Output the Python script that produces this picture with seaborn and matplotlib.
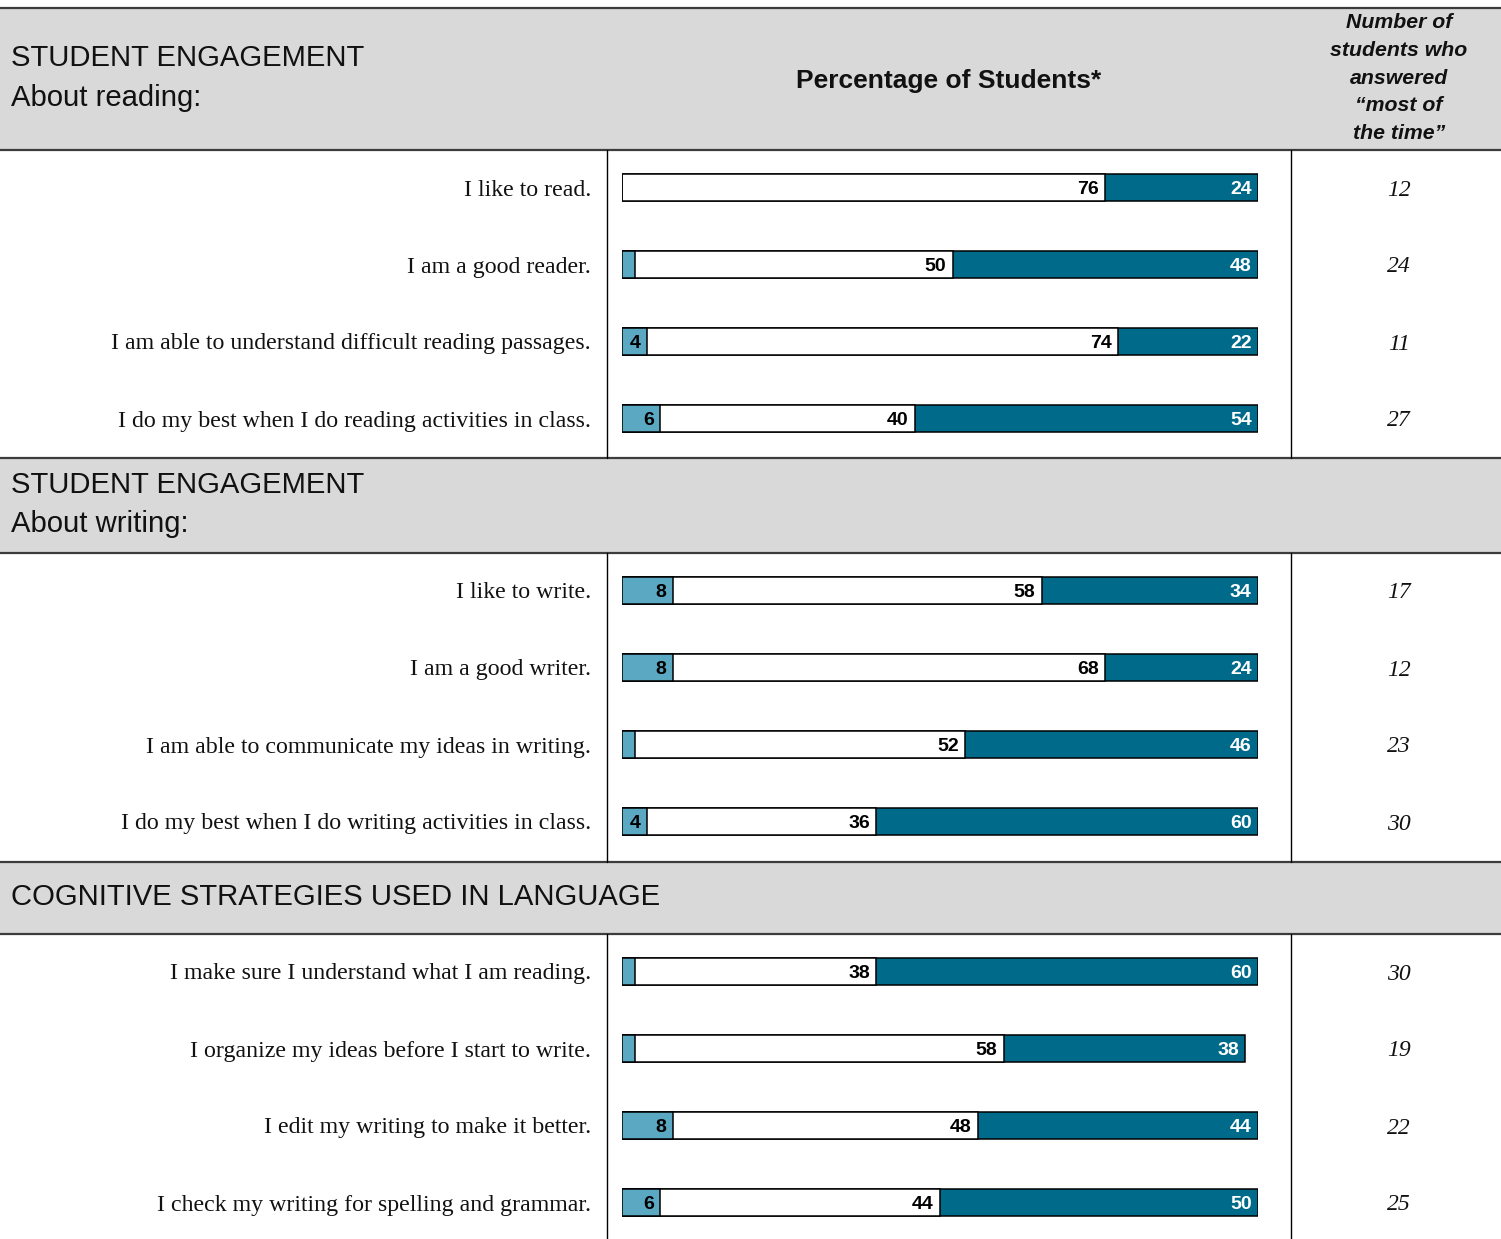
import numpy as np
import pandas as pd
import matplotlib
matplotlib.use("Agg")
import matplotlib.pyplot as plt
import seaborn as sns

# ---- data -------------------------------------------------------------
section_titles = [
    "STUDENT ENGAGEMENT\nAbout reading:",
    "STUDENT ENGAGEMENT\nAbout writing:",
    "COGNITIVE STRATEGIES USED IN LANGUAGE",
]
statements = [
    "I like to read.",
    "I am a good reader.",
    "I am able to understand difficult reading passages.",
    "I do my best when I do reading activities in class.",
    "I like to write.",
    "I am a good writer.",
    "I am able to communicate my ideas in writing.",
    "I do my best when I do writing activities in class.",
    "I make sure I understand what I am reading.",
    "I organize my ideas before I start to write.",
    "I edit my writing to make it better.",
    "I check my writing for spelling and grammar.",
]
section_index = [0, 0, 0, 0, 1, 1, 1, 1, 2, 2, 2, 2]
pct_never = [0, 2, 4, 6, 8, 8, 2, 4, 2, 2, 8, 6]
pct_sometimes = [76, 50, 74, 40, 58, 68, 52, 36, 38, 58, 48, 44]
pct_most = [24, 48, 22, 54, 34, 24, 46, 60, 60, 38, 44, 50]
n_most = [12, 24, 11, 27, 17, 12, 23, 30, 30, 19, 22, 25]

# ---- layout (figure pixels) ------------------------------------------
W, H = 1501, 1239
bands = [(8, 150), (458, 553), (862, 934)]
row_gap = 77
first_offset = 37
bar_left_px, bar_right_px = 622, 1258
label_x = 591
count_x = 1399
col_lines = [607, 1291]

c_light = "#5ba8c3"
c_dark = "#006a8a"
c_band = "#d9d9d9"
c_rule = "#3c3c3c"

sns.set_theme(style="white")
plt.rcParams["font.family"] = ["Liberation Sans", "DejaVu Sans"]

serif = ["Liberation Serif", "DejaVu Serif"]
narrow = ["Liberation Sans Narrow", "Liberation Sans", "DejaVu Sans"]

# row centres follow the band above each group
row_pos = []
counter = {}
for s in section_index:
    k = counter.get(s, 0)
    row_pos.append(bands[s][1] + first_offset + row_gap * k)
    counter[s] = k + 1

df = pd.DataFrame({
    "row": row_pos,
    "never": pct_never,
    "sometimes": pct_sometimes,
    "most": pct_most,
})
df["cum1"] = df["never"]
df["cum2"] = df["never"] + df["sometimes"]
df["cum3"] = df["cum2"] + df["most"]

fig = plt.figure(figsize=(W / 100, H / 100), dpi=100)

# table frame axes in pixel units
tab = fig.add_axes([0, 0, 1, 1])
tab.set_xlim(0, W)
tab.set_ylim(H, 0)
tab.axis("off")

for top, bot in bands:
    tab.fill_between([0, W], top, bot, color=c_band, lw=0, zorder=0)
    tab.plot([0, W], [top, top], color=c_rule, lw=1.6, zorder=2)
    tab.plot([0, W], [bot, bot], color=c_rule, lw=1.6, zorder=2)

white_spans = [(bands[0][1], bands[1][0]), (bands[1][1], bands[2][0]), (bands[2][1], H)]
for x in col_lines:
    for a, b in white_spans:
        tab.plot([x, x], [a, b], color="black", lw=1.0, zorder=2)

for (top, bot), title in zip(bands, section_titles):
    tab.text(11, (top + bot) / 2 - 1, title, ha="left", va="center",
             fontsize=21.1, linespacing=1.5, color="#111111")

tab.text(949, 81, "Percentage of Students*", ha="center", va="center",
         fontsize=19, fontweight="bold", color="#111111")
tab.text(count_x, 78, "Number of\nstudents who\nanswered\n\u201cmost of\nthe time\u201d",
         ha="center", va="center", fontsize=15.3, fontweight="bold",
         fontstyle="italic", linespacing=1.58, color="#111111")

for y, txt, n in zip(row_pos, statements, n_most):
    tab.text(label_x, y + 3, txt, ha="right", va="center", fontsize=17.2,
             family=serif, color="#111111")
    tab.text(count_x, y + 3, str(n), ha="center", va="center", fontsize=17,
             family=serif, fontstyle="italic", color="#111111")

# stacked bars drawn as layered cumulative bars
bx = fig.add_axes([bar_left_px / W, 0, (bar_right_px - bar_left_px) / W, 1])
bx.patch.set_alpha(0)
bar_h = 27 / row_gap
for col, colour in [("cum3", c_dark), ("cum2", "white"), ("cum1", c_light)]:
    sns.barplot(data=df, x=col, y="row", orient="h", native_scale=True,
                color=colour, saturation=1, width=bar_h, errorbar=None,
                edgecolor="black", linewidth=1.1, ax=bx)
bx.set_xlim(0, 100)
bx.set_ylim(H, 0)
bx.axis("off")

pad = 1.0
val_size = 14
for _, r in df.iterrows():
    y = r["row"] + 2.5
    if r["never"] >= 3:
        bx.text(r["cum1"] - pad, y, f"{r['never']:d}", ha="right", va="center",
                fontsize=val_size, fontweight="bold", family=narrow, color="black")
    bx.text(r["cum2"] - pad, y, f"{r['sometimes']:d}", ha="right", va="center",
            fontsize=val_size, fontweight="bold", family=narrow, color="black")
    bx.text(r["cum3"] - pad, y, f"{r['most']:d}", ha="right", va="center",
            fontsize=val_size, fontweight="bold", family=narrow, color="white")

fig.savefig("out.png", dpi=100)
